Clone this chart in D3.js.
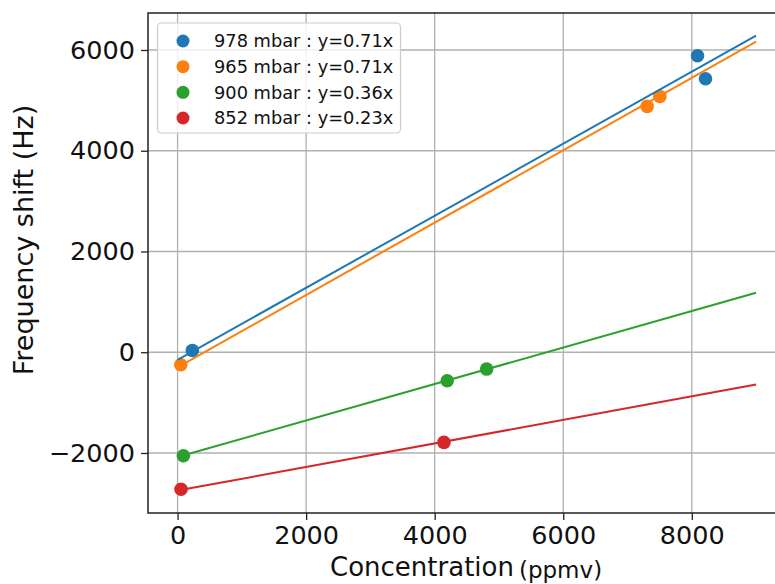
<!DOCTYPE html>
<html>
<head>
<meta charset="utf-8">
<script src="https://cdn.jsdelivr.net/npm/d3@7"></script>
<style>
  html, body { margin: 0; padding: 0; background: #fff; }
  svg { display: block; font-family: "DejaVu Sans", sans-serif; }
</style>
</head>
<body>
<svg id="chart" width="775" height="584"></svg>
<script>
// ---- data ----
const seriesNames = ["978 mbar : y=0.71x", "965 mbar : y=0.71x", "900 mbar : y=0.36x", "852 mbar : y=0.23x"];
const seriesColors = ["#1f77b4", "#ff7f0e", "#2ca02c", "#d62728"];
const pointsX978 = [230, 8089, 8213];
const pointsY978 = [36, 5886, 5429];
const pointsX965 = [50, 7305, 7503];
const pointsY965 = [-248, 4880, 5078];
const pointsX900 = [90, 4195, 4808];
const pointsY900 = [-2055, -566, -334];
const pointsX852 = [54, 4144];
const pointsY852 = [-2720, -1790];
const fitX = [0, 9000];
const fitY978 = [-150, 6283];
const fitY965 = [-300, 6164];
const fitY900 = [-2080, 1181];
const fitY852 = [-2745, -641];
const xTicks = [0, 2000, 4000, 6000, 8000];
const yTicks = [-2000, 0, 2000, 4000, 6000];

const series = [
  { name: seriesNames[0], color: seriesColors[0], px: pointsX978, py: pointsY978, fy: fitY978 },
  { name: seriesNames[1], color: seriesColors[1], px: pointsX965, py: pointsY965, fy: fitY965 },
  { name: seriesNames[2], color: seriesColors[2], px: pointsX900, py: pointsY900, fy: fitY900 },
  { name: seriesNames[3], color: seriesColors[3], px: pointsX852, py: pointsY852, fy: fitY852 }
];

// ---- layout ----
const plotL = 148, plotR = 785, plotT = 13, plotB = 513;
const x = d3.scaleLinear().domain([-460, 9450]).range([plotL, plotR]);
const y = d3.scaleLinear().domain([-3191, 6734]).range([plotB, plotT]);

const svg = d3.select("#chart");

// grid
const grid = svg.append("g");
grid.selectAll("line.gx").data(xTicks).enter().append("line")
  .attr("x1", d => x(d)).attr("x2", d => x(d))
  .attr("y1", plotT).attr("y2", plotB)
  .attr("stroke", "#b0b0b0").attr("stroke-width", 1.3);
grid.selectAll("line.gy").data(yTicks).enter().append("line")
  .attr("x1", plotL).attr("x2", plotR)
  .attr("y1", d => y(d)).attr("y2", d => y(d))
  .attr("stroke", "#b0b0b0").attr("stroke-width", 1.3);

// scatter points (below lines, like matplotlib default zorder)
series.forEach(s => {
  svg.append("g").selectAll("circle").data(s.px.map((v, i) => [v, s.py[i]])).enter()
    .append("circle")
    .attr("cx", d => x(d[0])).attr("cy", d => y(d[1]))
    .attr("r", 6.8).attr("fill", s.color);
});

// fit lines
const line = d3.line().x(d => x(d[0])).y(d => y(d[1]));
series.forEach(s => {
  svg.append("path")
    .datum(fitX.map((v, i) => [v, s.fy[i]]))
    .attr("d", line)
    .attr("fill", "none").attr("stroke", s.color).attr("stroke-width", 2);
});

// axes
const xAxis = d3.axisBottom(x).tickValues(xTicks).tickSize(7).tickPadding(6)
  .tickFormat(d3.format("d"));
const yAxis = d3.axisLeft(y).tickValues(yTicks).tickSize(7).tickPadding(6)
  .tickFormat(d => d < 0 ? "\u2212" + Math.abs(d) : String(d));

const gx = svg.append("g").attr("transform", `translate(0,${plotB})`).call(xAxis);
const gy = svg.append("g").attr("transform", `translate(${plotL},0)`).call(yAxis);
[gx, gy].forEach(g => {
  g.select(".domain").remove();
  g.selectAll(".tick line").attr("stroke", "#222").attr("stroke-width", 1.3);
  g.selectAll(".tick text").attr("fill", "#111")
    .style("font-family", "'DejaVu Sans', sans-serif").style("font-size", "25.5px");
});

// frame
svg.append("rect")
  .attr("x", plotL).attr("y", plotT)
  .attr("width", plotR - plotL).attr("height", plotB - plotT)
  .attr("fill", "none").attr("stroke", "#222").attr("stroke-width", 1.5);

// axis labels
const xl = svg.append("text")
  .attr("x", 330).attr("y", 576)
  .attr("fill", "#111");
xl.append("tspan").style("font-size", "26px").text("Concentration");
xl.append("tspan").attr("dx", 5).attr("dy", 2).style("font-size", "23px").text("(ppmv)");

svg.append("text")
  .attr("transform", "translate(33,240) rotate(-90)")
  .attr("text-anchor", "middle")
  .attr("fill", "#111")
  .style("font-size", "27px")
  .text("Frequency shift (Hz)");

// legend
const lg = svg.append("g");
lg.append("rect")
  .attr("x", 157.5).attr("y", 23).attr("width", 243).attr("height", 110)
  .attr("rx", 4).attr("ry", 4)
  .attr("fill", "#fff").attr("fill-opacity", 0.8)
  .attr("stroke", "#cccccc").attr("stroke-width", 1.2);
const rowY = d3.scaleLinear().domain([0, 3]).range([41, 118]);
series.forEach((s, i) => {
  lg.append("circle").attr("cx", 183).attr("cy", rowY(i)).attr("r", 6.5).attr("fill", s.color);
  lg.append("text").attr("x", 214).attr("y", rowY(i)).attr("dy", "0.36em")
    .attr("fill", "#111").style("font-size", "17.8px").text(s.name);
});
</script>
</body>
</html>
